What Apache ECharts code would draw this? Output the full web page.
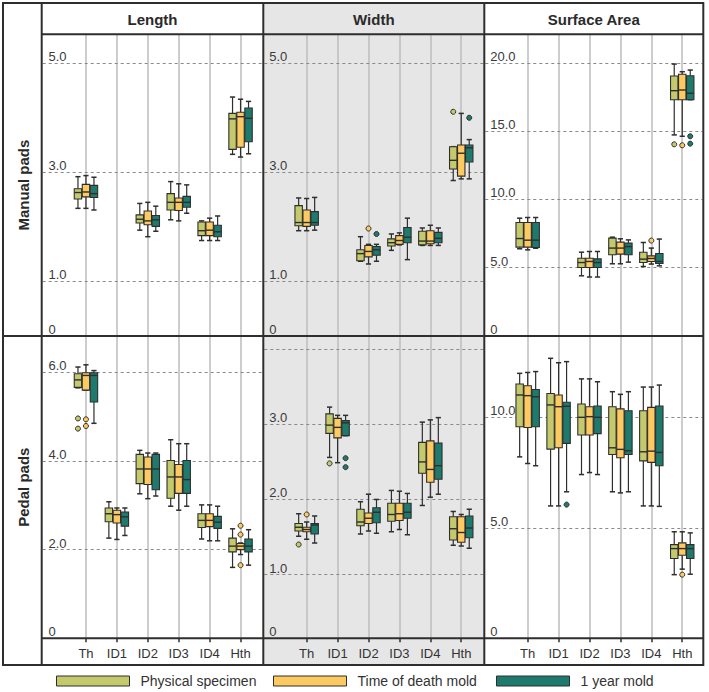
<!DOCTYPE html>
<html>
<head>
<meta charset="utf-8">
<title>Pad measurements</title>
<script src="https://cdn.jsdelivr.net/npm/echarts@6.0.0/dist/echarts.min.js"></script>
<style>
  html, body { margin: 0; padding: 0; background: #fff; }
  #chart { width: 709px; height: 692px; }
</style>
</head>
<body>
<div id="chart"></div>
<script>
const categories = ["Th", "ID1", "ID2", "ID3", "ID4", "Hth"];
const groupNames = ["Physical specimen", "Time of death mold", "1 year mold"];
const groupColors = ["#c4ca6c", "#fdc961", "#1f7a6e"];
const columnTitles = ["Length", "Width", "Surface Area"];
const rowTitles = ["Manual pads", "Pedal pads"];

// boxes: [min, Q1, median, Q3, max], null where nothing was measured
const manualLengthPhysical = [[2.34, 2.51, 2.63, 2.70, 2.92], null, [1.94, 2.07, 2.14, 2.22, 2.43], [2.13, 2.31, 2.45, 2.61, 2.83], [1.75, 1.84, 1.93, 2.09, 2.11], [3.33, 3.42, 3.98, 4.08, 4.38]];
const manualLengthDeath = [[2.34, 2.55, 2.64, 2.78, 2.94], null, [1.82, 2.04, 2.11, 2.29, 2.45], [2.11, 2.30, 2.45, 2.53, 2.79], [1.75, 1.84, 1.94, 2.09, 2.16], [3.28, 3.46, 4.02, 4.10, 4.34]];
const manualLengthYear = [[2.31, 2.54, 2.61, 2.76, 2.91], null, [1.92, 2.01, 2.13, 2.21, 2.38], [2.25, 2.36, 2.45, 2.56, 2.77], [1.75, 1.82, 1.91, 2.03, 2.20], [3.34, 3.56, 3.99, 4.18, 4.30]];

const manualWidthPhysical = [[1.93, 2.02, 2.08, 2.39, 2.53], null, [1.37, 1.38, 1.51, 1.58, 1.82], [1.57, 1.65, 1.71, 1.78, 1.87], [1.66, 1.67, 1.74, 1.92, 1.98], [2.85, 3.06, 3.22, 3.47, 3.47]];
const manualWidthDeath = [[1.93, 2.01, 2.08, 2.31, 2.52], null, [1.32, 1.45, 1.55, 1.66, 1.68], [1.67, 1.68, 1.75, 1.84, 1.89], [1.66, 1.69, 1.74, 1.93, 2.03], [2.88, 2.93, 3.35, 3.50, 4.08]];
const manualWidthYear = [[1.94, 2.03, 2.08, 2.28, 2.54], null, [1.37, 1.48, 1.58, 1.64, 1.68], [1.40, 1.71, 1.81, 1.99, 2.16], [1.66, 1.71, 1.79, 1.90, 1.98], [2.88, 3.19, 3.45, 3.50, 3.60]];

const manualAreaPhysical = [[6.39, 6.51, 7.14, 8.31, 8.63], null, [4.41, 5.02, 5.38, 5.70, 6.14], [5.29, 5.95, 6.44, 7.17, 7.24], [5.09, 5.38, 5.63, 6.14, 6.85], [14.73, 17.31, 17.97, 19.04, 19.92]];
const manualAreaDeath = [[6.31, 6.51, 7.02, 8.31, 8.68], null, [4.32, 5.02, 5.46, 5.70, 6.19], [5.29, 6.00, 6.44, 6.88, 7.12], [5.27, 5.46, 5.68, 5.87, 6.44], [14.63, 17.31, 18.02, 19.17, 19.36]];
const manualAreaYear = [[6.43, 6.48, 7.02, 8.31, 8.68], null, [4.32, 5.02, 5.38, 5.65, 6.19], [5.41, 5.95, 6.55, 6.80, 7.04], [5.14, 5.31, 5.46, 6.04, 7.10], [17.31, 17.31, 17.78, 19.06, 19.48]];

const pedalLengthPhysical = [[5.65, 5.66, 5.83, 5.97, 6.12], [2.26, 2.63, 2.81, 2.94, 3.08], [3.26, 3.49, 3.82, 4.15, 4.24], [2.98, 3.16, 3.64, 4.01, 4.48], [2.24, 2.50, 2.66, 2.81, 3.01], [1.60, 1.95, 2.08, 2.26, 2.47]];
const pedalLengthDeath = [[5.60, 5.60, 5.93, 5.99, 6.17], [2.23, 2.60, 2.79, 2.89, 2.94], [3.15, 3.47, 3.82, 4.09, 4.18], [2.89, 3.27, 3.64, 3.92, 4.39], [2.20, 2.52, 2.66, 2.81, 3.01], [1.89, 2.00, 2.08, 2.14, 2.15]];
const pedalLengthYear = [[4.85, 5.33, 5.93, 5.99, 6.04], [2.32, 2.53, 2.74, 2.85, 2.94], [3.21, 3.35, 3.82, 4.15, 4.18], [2.98, 3.27, 3.58, 4.01, 4.39], [2.20, 2.48, 2.62, 2.75, 2.98], [1.65, 1.95, 2.08, 2.24, 2.45]];

const pedalWidthPhysical = [[1.51, 1.58, 1.63, 1.68, 1.81], [2.56, 2.88, 2.99, 3.14, 3.23], [1.54, 1.65, 1.70, 1.87, 1.97], [1.57, 1.71, 1.80, 1.95, 2.12], [1.92, 2.35, 2.50, 2.76, 3.03], [1.39, 1.46, 1.61, 1.77, 1.84]];
const pedalWidthDeath = [[1.47, 1.57, 1.60, 1.63, 1.70], [2.49, 2.82, 2.96, 3.08, 3.12], [1.58, 1.68, 1.75, 1.82, 2.07], [1.60, 1.72, 1.81, 1.95, 2.11], [2.03, 2.23, 2.40, 2.78, 3.06], [1.38, 1.43, 1.56, 1.77, 1.80]];
const pedalWidthYear = [[1.42, 1.54, 1.66, 1.68, 1.78], [2.85, 2.85, 3.02, 3.05, 3.12], [1.55, 1.69, 1.83, 1.89, 2.00], [1.53, 1.75, 1.83, 1.95, 2.08], [2.07, 2.27, 2.45, 2.75, 3.09], [1.35, 1.49, 1.62, 1.78, 1.87]];

const pedalAreaPhysical = [[8.21, 9.57, 11.01, 11.51, 11.99], [5.99, 8.56, 10.56, 11.08, 12.67], [7.41, 9.20, 10.00, 10.60, 11.74], [6.63, 8.32, 8.62, 10.48, 11.16], [5.99, 8.03, 8.44, 10.30, 11.37], [2.88, 3.61, 4.06, 4.24, 4.82]];
const pedalAreaDeath = [[7.91, 9.54, 10.98, 11.43, 12.03], [5.99, 8.62, 10.48, 11.01, 12.47], [7.50, 9.20, 10.03, 10.48, 11.74], [6.58, 8.17, 8.55, 10.38, 11.04], [5.99, 7.96, 8.47, 10.45, 11.37], [3.13, 3.76, 4.06, 4.32, 4.82]];
const pedalAreaYear = [[7.81, 9.57, 10.93, 11.26, 12.07], [6.63, 8.82, 10.50, 10.68, 12.52], [7.41, 9.26, 10.00, 10.51, 11.61], [6.63, 8.32, 8.49, 10.30, 11.16], [5.97, 7.81, 8.41, 10.51, 11.46], [2.90, 3.61, 4.06, 4.24, 4.77]];

// outliers: [group, category, value]
const manualLengthOutliers = [];
const manualWidthOutliers = [[0, 5, 4.11], [1, 2, 1.97], [2, 2, 1.87], [2, 5, 4.00]];
const manualAreaOutliers = [[0, 5, 14.04], [1, 4, 6.99], [1, 5, 13.97], [2, 5, 14.63], [2, 5, 14.09]];
const pedalLengthOutliers = [[0, 0, 4.96], [0, 0, 4.73], [1, 0, 4.94], [1, 0, 4.79], [1, 5, 2.54], [1, 5, 2.34], [1, 5, 1.65]];
const pedalWidthOutliers = [[0, 0, 1.40], [1, 0, 1.80], [0, 1, 2.48], [2, 1, 2.55], [2, 1, 2.43]];
const pedalAreaOutliers = [[2, 1, 6.05], [1, 5, 2.88]];

// tick labels and dashed reference lines
const manualLengthTicks = [0, 1, 3, 5];
const manualAreaTicks = [0, 5, 10, 15, 20];
const pedalLengthTicks = [0, 2, 4, 6];
const pedalWidthTicks = [0.151, 1, 2, 3];
const pedalAreaTicks = [0, 5, 10];
const manualLengthLines = [1, 3, 5];
const manualAreaLines = [5, 10, 15, 20];
const pedalLengthLines = [2, 4, 6];
const pedalWidthLines = [1, 2, 3, 4];
const pedalAreaLines = [5, 10];

const panels = [
  { row: 0, col: 0, boxes: [manualLengthPhysical, manualLengthDeath, manualLengthYear], outliers: manualLengthOutliers, min: 0, max: 5.53, ticks: manualLengthTicks, lines: manualLengthLines },
  { row: 0, col: 1, boxes: [manualWidthPhysical, manualWidthDeath, manualWidthYear], outliers: manualWidthOutliers, min: 0, max: 5.53, ticks: manualLengthTicks, lines: manualLengthLines },
  { row: 0, col: 2, boxes: [manualAreaPhysical, manualAreaDeath, manualAreaYear], outliers: manualAreaOutliers, min: 0, max: 22.1, ticks: manualAreaTicks, lines: manualAreaLines },
  { row: 1, col: 0, boxes: [pedalLengthPhysical, pedalLengthDeath, pedalLengthYear], outliers: pedalLengthOutliers, min: 0, max: 6.82, ticks: pedalLengthTicks, lines: pedalLengthLines },
  { row: 1, col: 1, boxes: [pedalWidthPhysical, pedalWidthDeath, pedalWidthYear], outliers: pedalWidthOutliers, min: 0.151, max: 4.177, ticks: pedalWidthTicks, lines: pedalWidthLines },
  { row: 1, col: 2, boxes: [pedalAreaPhysical, pedalAreaDeath, pedalAreaYear], outliers: pedalAreaOutliers, min: 0, max: 13.68, ticks: pedalAreaTicks, lines: pedalAreaLines }
];

// layout of the table frame (px)
const colEdges = [41.7, 263.3, 484.3, 703.3];
const gridLefts = [70.5, 291.2, 512.2];
const gridWidth = 185.5;
const rowEdges = [34.3, 336, 638.3];
const frame = { left: 3, top: 3, right: 703.3, bottom: 665 };
const boxOffsets = [-8, 0, 8];
const legendLefts = [56, 273, 496];
const edge = "#2e2e2e";
const font = "'Liberation Sans', Arial, sans-serif";
const narrowFont = "'Liberation Sans Narrow', 'Arial Narrow', 'Liberation Sans', sans-serif";

function boxRenderer(offset, color) {
  return function (params, api) {
    const cat = api.value(0);
    const pt = v => api.coord([cat, v]);
    const lo = pt(api.value(1)), q1 = pt(api.value(2)), md = pt(api.value(3));
    const q3 = pt(api.value(4)), hi = pt(api.value(5));
    const x = lo[0] + offset;
    const half = 3.7, cap = 2.6;
    const line = (x1, y1, x2, y2, w) => ({
      type: "line", shape: { x1, y1, x2, y2 }, style: { stroke: edge, lineWidth: w || 1.2 }
    });
    return {
      type: "group",
      children: [
        line(x, hi[1], x, q3[1]),
        line(x, q1[1], x, lo[1]),
        line(x - cap, hi[1], x + cap, hi[1], 1.5),
        line(x - cap, lo[1], x + cap, lo[1], 1.5),
        { type: "rect", shape: { x: x - half, y: q3[1], width: half * 2, height: q1[1] - q3[1] }, style: { fill: color, stroke: edge, lineWidth: 1.1 } },
        line(x - half, md[1], x + half, md[1], 1.4)
      ]
    };
  };
}

const grids = [], xAxes = [], yAxes = [], series = [];

panels.forEach((p, idx) => {
  const top = rowEdges[p.row], bottom = rowEdges[p.row + 1];
  grids.push({ left: gridLefts[p.col], width: gridWidth, top: top, height: bottom - top, outerBoundsMode: "none" });
  xAxes.push({
    type: "category", gridIndex: idx, data: categories,
    axisLine: { show: false },
    axisTick: { show: p.row === 1, alignWithLabel: true, length: 4, lineStyle: { color: edge, width: 1.5 } },
    axisLabel: { show: p.row === 1, margin: 9, fontSize: 13, color: "#333", fontFamily: narrowFont },
    splitLine: { show: false }
  });
  yAxes.push({
    type: "value", gridIndex: idx, min: p.min, max: p.max,
    axisLine: { show: false }, axisTick: { show: false }, splitLine: { show: false },
    axisLabel: {
      customValues: p.ticks, align: "left", margin: 22, verticalAlign: "bottom",
      fontSize: 13, color: "#3a3a3a", fontFamily: font,
      formatter: v => (v === p.min ? "0" : v.toFixed(1))
    }
  });

  // reference lines: grey verticals on categories, dashed horizontals across the panel
  const x0 = colEdges[p.col] + 1, x1 = colEdges[p.col + 1] - 1;
  series.push({
    type: "line", xAxisIndex: idx, yAxisIndex: idx, data: [], silent: true,
    markLine: {
      silent: true, symbol: ["none", "none"], label: { show: false }, z: 1, animation: false,
      data: categories.map(c => ({ xAxis: c, lineStyle: { color: "#bcbcbc", width: 1.5, type: "solid" } }))
        .concat(p.lines.map(v => [
          { yAxis: v, x: x0, lineStyle: { color: "#8a8a8a", width: 1, type: [3, 3] } },
          { yAxis: v, x: x1 }
        ]))
    }
  });

  groupNames.forEach((name, g) => {
    series.push({
      type: "custom", name: name, xAxisIndex: idx, yAxisIndex: idx, z: 3,
      itemStyle: { color: groupColors[g] },
      encode: { x: 0, y: [1, 2, 3, 4, 5] },
      data: p.boxes[g].map((b, i) => (b ? [i].concat(b) : null)).filter(Boolean),
      renderItem: boxRenderer(boxOffsets[g], groupColors[g])
    });
    series.push({
      type: "scatter", name: name, xAxisIndex: idx, yAxisIndex: idx, z: 4,
      symbol: "circle", symbolSize: 5, symbolOffset: [boxOffsets[g], 0],
      itemStyle: { color: groupColors[g], borderColor: edge, borderWidth: 1, opacity: 1 },
      data: p.outliers.filter(o => o[0] === g).map(o => [o[1], o[2]])
    });
  });
});

const frameLine = (x1, y1, x2, y2) => ({
  type: "line", z: 50, shape: { x1, y1, x2, y2 }, style: { stroke: edge, lineWidth: 2 }
});

const graphics = [
  { type: "rect", z: -1, shape: { x: colEdges[1], y: frame.top, width: colEdges[2] - colEdges[1], height: frame.bottom - frame.top }, style: { fill: "#e6e6e6" } },
  { type: "rect", z: 50, shape: { x: frame.left, y: frame.top, width: frame.right - frame.left, height: frame.bottom - frame.top }, style: { fill: "none", stroke: edge, lineWidth: 2 } },
  frameLine(colEdges[0], frame.top, colEdges[0], frame.bottom),
  frameLine(colEdges[1], frame.top, colEdges[1], frame.bottom),
  frameLine(colEdges[2], frame.top, colEdges[2], frame.bottom),
  frameLine(colEdges[0], rowEdges[0], frame.right, rowEdges[0]),
  frameLine(frame.left, rowEdges[1], frame.right, rowEdges[1]),
  frameLine(colEdges[0], rowEdges[2], frame.right, rowEdges[2])
];
columnTitles.forEach((t, c) => {
  graphics.push({
    type: "text", z: 60, x: (colEdges[c] + colEdges[c + 1]) / 2, y: (frame.top + rowEdges[0]) / 2 + 1,
    style: { text: t, font: "bold 15px " + font, fill: "#2a2a2a", align: "center", verticalAlign: "middle" }
  });
});
rowTitles.forEach((t, r) => {
  graphics.push({
    type: "text", z: 60, x: (frame.left + colEdges[0]) / 2 + 1, y: (rowEdges[r] + rowEdges[r + 1]) / 2,
    rotation: Math.PI / 2,
    style: { text: t, font: "bold 15px " + font, fill: "#2a2a2a", align: "center", verticalAlign: "middle" }
  });
});

const chart = echarts.init(document.getElementById("chart"), null, { renderer: "svg" });
chart.setOption({
  animation: false,
  backgroundColor: "#fff",
  grid: grids,
  xAxis: xAxes,
  yAxis: yAxes,
  legend: groupNames.map((name, i) => ({
    data: [name], left: legendLefts[i], top: 674, padding: 0,
    itemWidth: 73, itemHeight: 10, icon: "rect", selectedMode: false,
    itemStyle: { borderColor: edge, borderWidth: 1 },
    textStyle: { fontSize: 14, color: "#333", fontFamily: font, padding: [0, 0, 0, 6] }
  })),
  graphic: { elements: graphics },
  series: series
});
window.addEventListener("resize", () => chart.resize());
</script>
</body>
</html>
